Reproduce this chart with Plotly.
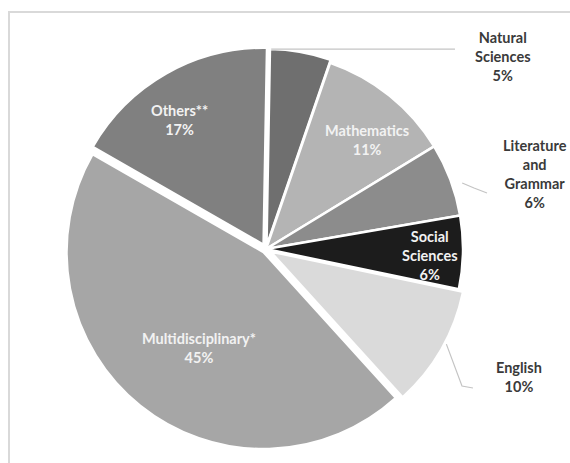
import math
import plotly.graph_objects as go

# Subject shares (%), clockwise from 12 o'clock
subjects = ["Natural Sciences", "Mathematics", "Literature and Grammar",
            "Social Sciences", "English", "Multidisciplinary*", "Others**"]
label_names = ["Natural<br>Sciences", "Mathematics", "Literature<br>and<br>Grammar",
               "Social<br>Sciences", "English", "Multidisciplinary*", "Others**"]
shares = [5, 11, 6, 6, 10, 45, 17]

# Styling
colors = ["#6f6f6f", "#b4b4b4", "#8c8c8c", "#1c1c1c", "#dadada", "#a6a6a6", "#808080"]
pulls = [0.015, 0.0, 0.0, 0.0, 0.025, 0.02, 0.025]

W, H = 570, 463
CX, CY, R = 266, 249, 197          # pie centre and radius in pixels
ROT = 1.0                          # start angle, degrees clockwise from 12 o'clock
max_pull = max(pulls)
half = R * (1 + max_pull)
dom_x = [(CX - half) / W, (CX + half) / W]
dom_y = [1 - (CY + half) / H, 1 - (CY - half) / H]


def to_paper(x, y):
    return x / W, 1 - y / H


def polar(angle_deg, rad):
    a = math.radians(angle_deg)
    return CX + rad * math.sin(a), CY - rad * math.cos(a)


total = sum(shares)
starts, mids = [], []
cum = 0
for s in shares:
    starts.append(ROT + cum / total * 360)
    mids.append(ROT + (cum + s / 2) / total * 360)
    cum += s

fig = go.Figure(go.Pie(
    labels=subjects,
    values=shares,
    sort=False,
    direction="clockwise",
    rotation=ROT,
    pull=pulls,
    marker=dict(colors=colors, line=dict(color="white", width=2.5)),
    textinfo="none",
    hoverinfo="skip",
    domain=dict(x=dom_x, y=dom_y),
    showlegend=False,
))

FONT = "Lato"
annotations = []

# labels drawn inside their slices: (index, radial fraction, angular nudge)
inside = [(1, 0.754, 4.0), (3, 0.833, 1.4), (5, 0.607, -4.7), (6, 0.787, -4.1)]
for i, frac, nudge in inside:
    x, y = polar(mids[i] + nudge, R * frac)
    px_, py_ = to_paper(x, y)
    annotations.append(dict(
        x=px_, y=py_, xref="paper", yref="paper", showarrow=False,
        xanchor="center", yanchor="middle", align="center",
        text=f"{label_names[i]}<br>{shares[i]}%",
        font=dict(family=FONT, size=14.5, color="#f2f2f2", weight="bold"),
    ))

# labels placed beside the pie, with leader lines
outside = {0: (503, 57), 2: (535, 174), 4: (519, 377)}
for i, (lx, ly) in outside.items():
    px_, py_ = to_paper(lx, ly)
    annotations.append(dict(
        x=px_, y=py_, xref="paper", yref="paper", showarrow=False,
        xanchor="center", yanchor="middle", align="center",
        text=f"{label_names[i]}<br>{shares[i]}%",
        font=dict(family=FONT, size=14.5, color="#3a3a3a", weight="bold"),
    ))


def path_from(points):
    pts = [to_paper(x, y) for x, y in points]
    return "M " + " L ".join(f"{x:.4f},{y:.4f}" for x, y in pts)


leader_style = dict(color="#c4c4c4", width=1.2)
ns_start = polar(starts[0] + 0.5, R * (1 + pulls[0]))
lit_start = polar(mids[2] + 2, R + 10)
eng_start = polar(mids[4] - 2, R * (1 + pulls[4]) + 2)
leaders = [
    [ns_start, (455, ns_start[1])],
    [lit_start, (474, 188), (487, 193)],
    [eng_start, (462, 386), (473, 388)],
]

shapes = [dict(type="path", xref="paper", yref="paper", path=path_from(p),
               line=leader_style) for p in leaders]

# chart frame
fx0, fy0 = to_paper(9, 12)
fx1, fy1 = to_paper(600, 480)
shapes.append(dict(type="rect", xref="paper", yref="paper",
                   x0=fx0, y0=fy1, x1=fx1, y1=fy0,
                   line=dict(color="#d9d9d9", width=2)))

fig.update_layout(
    width=W, height=H,
    margin=dict(l=0, r=0, t=0, b=0),
    paper_bgcolor="white", plot_bgcolor="white",
    annotations=annotations,
    shapes=shapes,
)

fig.write_html("out.html")
